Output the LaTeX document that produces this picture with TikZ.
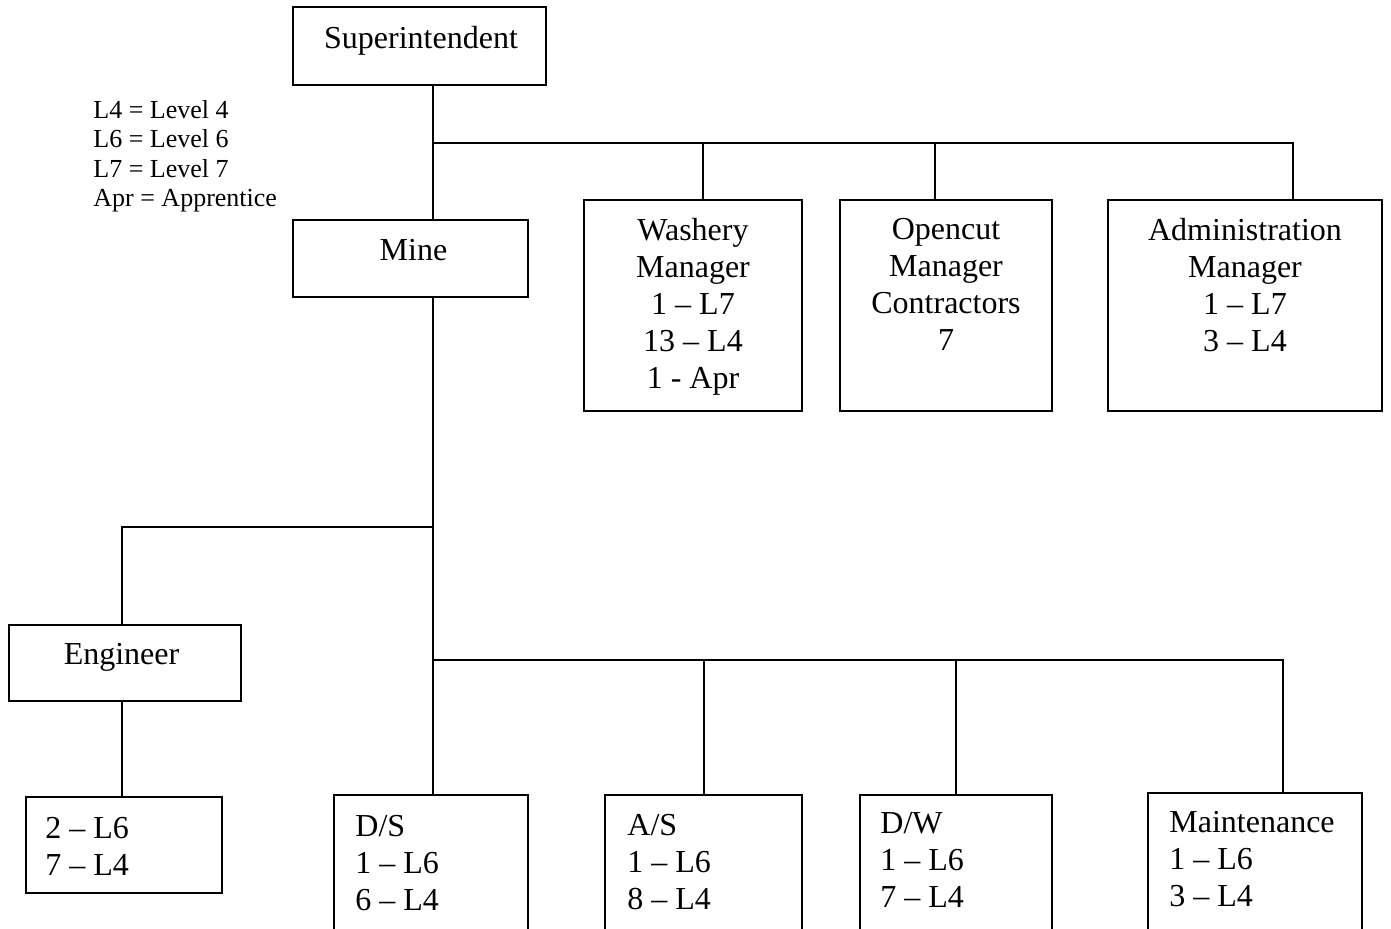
\documentclass[tikz,border=0pt]{standalone}
\usepackage{fontspec}
\setmainfont{Liberation Serif}
\begin{document}
\begin{tikzpicture}[x=0.5pt,y=-0.5pt,
  box/.style={draw, line width=1.2pt, inner sep=0pt},
  conn/.style={line width=1pt},
  txt/.style={inner sep=0pt, font=\fontsize{16}{18.5}\selectfont, anchor=north},
  leg/.style={inner sep=0pt, font=\fontsize{13}{14.7}\selectfont, anchor=north west, align=left}]
\useasboundingbox (0,0) rectangle (1391,929);
\clip (0,0) rectangle (1391,929);
% boxes
\node[box, minimum width=126.5pt, minimum height=39pt] (sup) at (419.5,46) {};
\node[box, minimum width=117.5pt, minimum height=38.5pt] (mine) at (410.5,258.5) {};
\node[box, minimum width=109pt, minimum height=105.5pt] (wash) at (693,305.5) {};
\node[box, minimum width=106pt, minimum height=105.5pt] (open) at (946,305.5) {};
\node[box, minimum width=137pt, minimum height=105.5pt] (admin) at (1245,305.5) {};
\node[box, minimum width=116pt, minimum height=38pt] (eng) at (125,663) {};
\node[box, minimum width=98pt, minimum height=48pt] (engsub) at (124,845) {};
\node[box, minimum width=97pt, minimum height=82.5pt] (ds) at (431,877.5) {};
\node[box, minimum width=98.5pt, minimum height=82.5pt] (as) at (703.5,877.5) {};
\node[box, minimum width=96pt, minimum height=82.5pt] (dw) at (956,877.5) {};
\node[box, minimum width=107pt, minimum height=83.5pt] (mnt) at (1255,876.5) {};
% texts
\node[txt] (supT) at (421,26) {Superintendent};
\node[txt] (mineT) at (413.5,239) {Mine};
\node[txt, align=center] (washT) at (693,218) {Washery\\Manager\\1 – L7\\13 – L4\\1 - Apr};
\node[txt, align=center] (openT) at (946,218) {Opencut\\Manager\\Contractors\\7};
\node[txt, align=center] (adminT) at (1245,218) {Administration\\Manager\\1 – L7\\3 – L4};
\node[txt] (engT) at (121.5,643) {Engineer};
\node[txt, anchor=north west, align=left] (engsubT) at (45,817) {2 – L6\\7 – L4};
\node[txt, anchor=north west, align=left] (dsT) at (355,815) {D/S\\1 – L6\\6 – L4};
\node[txt, anchor=north west, align=left] (asT) at (627,814) {A/S\\1 – L6\\8 – L4};
\node[txt, anchor=north west, align=left] (dwT) at (880,812) {D/W\\1 – L6\\7 – L4};
\node[txt, anchor=north west, align=left] (mntT) at (1169,811) {Maintenance\\1 – L6\\3 – L4};
\node[leg] (legend) at (93,100) {L4 = Level 4\\L6 = Level 6\\L7 = Level 7\\Apr = Apprentice};
% connectors
\coordinate (trunk) at (433,0);
\coordinate (j1) at (433,143);
\coordinate (j2) at (433,527);
\coordinate (j3) at (433,660);
\draw[conn] (sup.south -| trunk) -- (mine.north -| trunk);
\draw[conn] (mine.south -| trunk) -- (ds.north -| trunk);
\draw[conn] (j1) -| ([xshift=24pt]admin.north);
\draw[conn] ([xshift=5pt]wash.north |- j1) -- ([xshift=5pt]wash.north);
\draw[conn] ([xshift=-5.5pt]open.north |- j1) -- ([xshift=-5.5pt]open.north);
\draw[conn] (j2) -| ([xshift=-1.5pt]eng.north);
\draw[conn] ([xshift=-1.5pt]eng.south) -- ([xshift=-1.5pt]eng.south |- engsub.north);
\draw[conn] (j3) -| ([xshift=14pt]mnt.north);
\draw[conn] (as.north |- j3) -- (as.north);
\draw[conn] (dw.north |- j3) -- (dw.north);
\end{tikzpicture}
\end{document}
